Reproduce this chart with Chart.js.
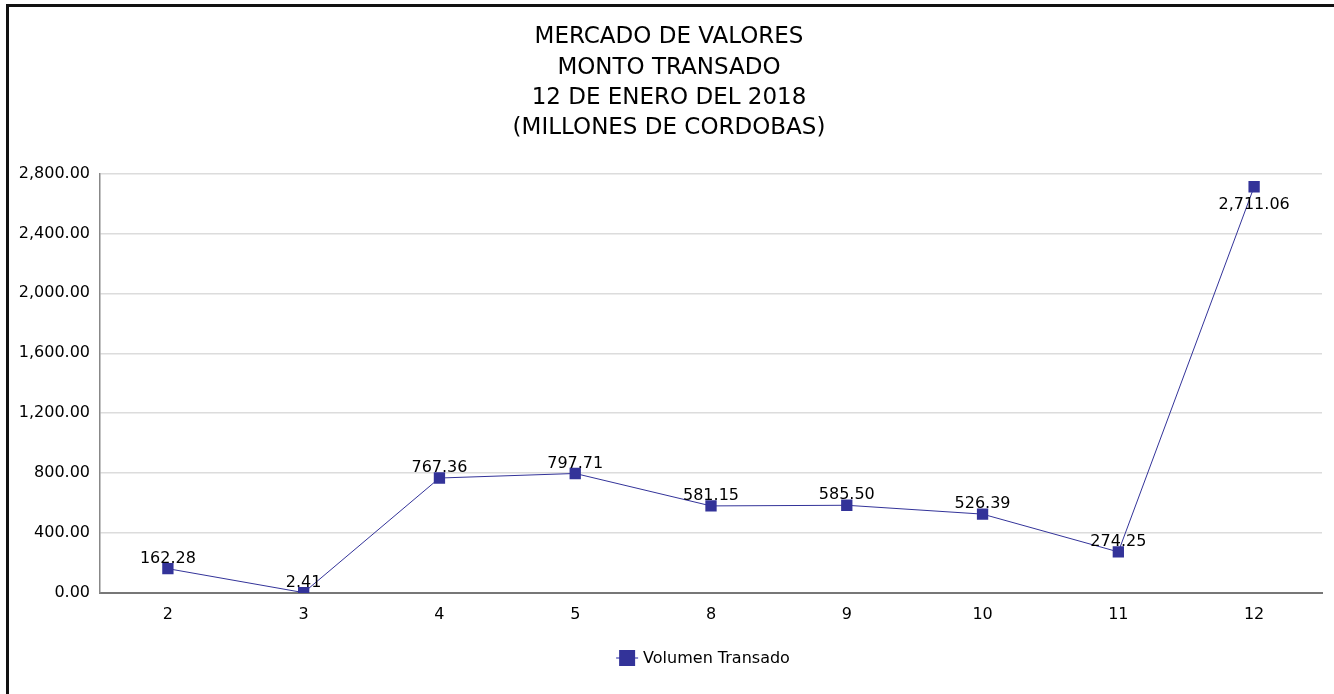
<!DOCTYPE html>
<html>
<head>
<meta charset="utf-8">
<script src="https://cdn.jsdelivr.net/npm/chart.js@4.4.1/dist/chart.umd.min.js"></script>
<style>
  html, body { margin: 0; padding: 0; background: #fff; }
  #wrap { width: 1334px; height: 694px; position: relative; }
</style>
</head>
<body>
<div id="wrap"><canvas id="chart" width="1334" height="694"></canvas></div>
<script>
// data
const dias = ['2', '3', '4', '5', '8', '9', '10', '11', '12'];
const volumen = [162.28, 2.41, 767.36, 797.71, 581.15, 585.50, 526.39, 274.25, 2711.06];
const titulo = ['MERCADO DE VALORES', 'MONTO TRANSADO', '12 DE ENERO DEL 2018', '(MILLONES DE CORDOBAS)'];
const serieNombre = 'Volumen Transado';

const FONT = '"DejaVu Sans", Verdana, sans-serif';
const AZUL = '#333399';

const fmt = v => v.toLocaleString('en-US', { minimumFractionDigits: 2, maximumFractionDigits: 2 });

// frame on top and left, like the exported chart
const marco = {
    id: 'marco',
    beforeDraw(chart) {
        const ctx = chart.ctx;
        ctx.save();
        ctx.fillStyle = '#111';
        ctx.fillRect(6, 4, 1334, 3);
        ctx.fillRect(6, 4, 3, 694);
        ctx.restore();
    }
};

// value labels, above the marker (below it when there is no room)
const etiquetas = {
    id: 'etiquetas',
    afterDatasetsDraw(chart) {
        const ctx = chart.ctx;
        const meta = chart.getDatasetMeta(0);
        ctx.save();
        ctx.font = '16px ' + FONT;
        ctx.fillStyle = '#000';
        ctx.textAlign = 'center';
        meta.data.forEach((pt, i) => {
            const v = volumen[i];
            if (pt.y - chart.chartArea.top < 30) {
                ctx.textBaseline = 'top';
                ctx.fillText(fmt(v), pt.x, pt.y + 10);
            } else {
                ctx.textBaseline = 'bottom';
                ctx.fillText(fmt(v), pt.x, pt.y - 2);
            }
        });
        ctx.restore();
    }
};

// legend under the plot
const leyenda = {
    id: 'leyenda',
    afterDraw(chart) {
        const ctx = chart.ctx;
        const ds = chart.data.datasets[0];
        const area = chart.chartArea;
        ctx.save();
        ctx.font = '16px ' + FONT;
        const tw = ctx.measureText(ds.label).width;
        const total = 22 + 5 + tw;
        const x0 = (area.left + area.right) / 2 - 8 - total / 2;
        const y = 658;
        ctx.strokeStyle = '#6b6bc0';
        ctx.lineWidth = 1.5;
        ctx.beginPath();
        ctx.moveTo(x0, y);
        ctx.lineTo(x0 + 22, y);
        ctx.stroke();
        ctx.fillStyle = ds.backgroundColor;
        ctx.fillRect(x0 + 3, y - 8, 16, 16);
        ctx.fillStyle = '#000';
        ctx.textAlign = 'left';
        ctx.textBaseline = 'middle';
        ctx.fillText(ds.label, x0 + 27, y + 1);
        ctx.restore();
    }
};

new Chart(document.getElementById('chart'), {
    type: 'line',
    data: {
        labels: dias,
        datasets: [{
            label: serieNombre,
            data: volumen,
            borderColor: AZUL,
            backgroundColor: AZUL,
            borderWidth: 1,
            pointStyle: 'rect',
            pointRadius: 8,
            pointBorderWidth: 0,
            tension: 0
        }]
    },
    options: {
        responsive: false,
        animation: false,
        layout: { padding: { left: 16, right: 12, top: 0, bottom: 59 } },
        plugins: {
            title: {
                display: true,
                text: titulo,
                color: '#000',
                font: { family: FONT, size: 23, weight: 'normal', lineHeight: 1.32 },
                padding: { top: 22, bottom: 30 }
            },
            legend: { display: false },
            tooltip: { enabled: false }
        },
        scales: {
            x: {
                offset: true,
                grid: { display: false },
                border: { color: '#777', width: 2 },
                ticks: { color: '#000', font: { family: FONT, size: 16 }, padding: 4 },
                afterFit(s) { s.height = 42; }
            },
            y: {
                min: 0,
                max: 2800,
                ticks: {
                    stepSize: 400,
                    color: '#000',
                    font: { family: FONT, size: 16 },
                    padding: 10,
                    callback: v => fmt(v)
                },
                grid: { color: '#dcdcdc', lineWidth: 1.5, drawTicks: false },
                border: { color: '#888', width: 1.5 },
                afterFit(s) { s.width = 84; }
            }
        }
    },
    plugins: [marco, etiquetas, leyenda]
});
</script>
</body>
</html>
